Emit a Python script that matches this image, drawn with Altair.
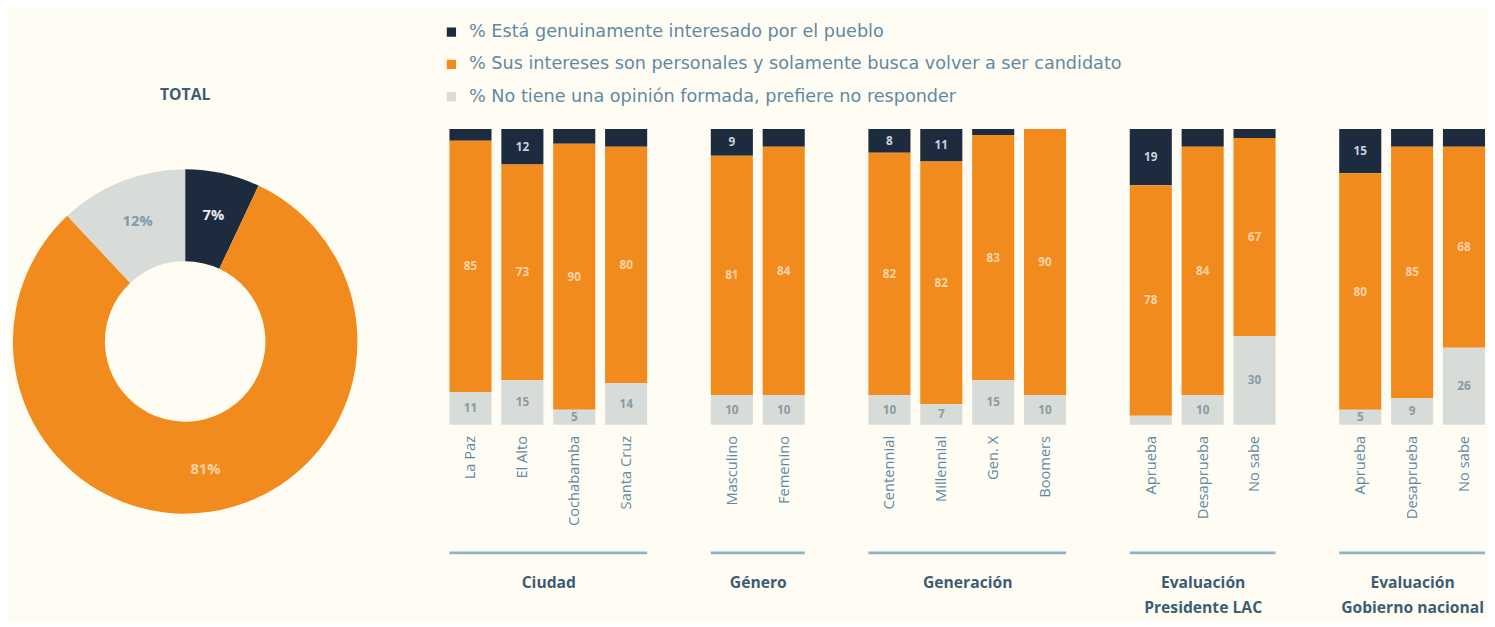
import altair as alt
import pandas as pd

# ---------------- data ----------------
series = [
    "% Está genuinamente interesado por el pueblo",
    "% Sus intereses son personales y solamente busca volver a ser candidato",
    "% No tiene una opinión formada, prefiere no responder",
]
colors = ["#1d2b3e", "#f28b1e", "#d8dcd9"]
label_colors = ["#c9d3dc", "#fcd3a6", "#8a9aa5"]
donut_label_colors = ["#e8eef3", "#fcd3a6", "#7f9aad"]

total = [7, 81, 12]

group_titles = [["Ciudad"], ["Género"], ["Generación"],
                ["Evaluación", "Presidente LAC"], ["Evaluación", "Gobierno nacional"]]
group_cats = [["La Paz", "El Alto", "Cochabamba", "Santa Cruz"],
              ["Masculino", "Femenino"],
              ["Centennial", "Millennial", "Gen. X", "Boomers"],
              ["Aprueba", "Desaprueba", "No sabe"],
              ["Aprueba", "Desaprueba", "No sabe"]]
interesado = [[4, 12, 5, 6], [9, 6], [8, 11, 2, 0], [19, 6, 3], [15, 6, 6]]
personales = [[85, 73, 90, 80], [81, 84], [82, 82, 83, 90], [78, 84, 67], [80, 85, 68]]
no_opina = [[11, 15, 5, 14], [10, 10], [10, 7, 15, 10], [3, 10, 30], [5, 9, 26]]

# ---------------- style ----------------
FONT = "Open Sans"
LEGEND_FONT = "DejaVu Sans"
TEXT_BLUE = "#6189a3"
TITLE_BLUE = "#3c5d74"
LINE_BLUE = "#8db4c6"
BG = "#fffdf3"
STEP = 53
GAP = 10
H = 302

legend = alt.Legend(
    orient="none", legendX=432, legendY=-108, title=None,
    symbolType="square", symbolSize=90, symbolStrokeWidth=0,
    labelFont=LEGEND_FONT, labelFontSize=18, labelColor=TEXT_BLUE,
    labelLimit=1000, labelOffset=9, rowPadding=15,
)
color_enc = alt.Color("serie:N", scale=alt.Scale(domain=series, range=colors), legend=legend)

# ---------------- donut ----------------
donut_df = pd.DataFrame({
    "serie": series,
    "val": total,
    "ord": [0, 1, 2],
    "lbl": [f"{v}%" for v in total],
    "tc": donut_label_colors,
})
dbase = alt.Chart(donut_df).encode(
    theta=alt.Theta("val:Q", stack=True),
    order=alt.Order("ord:Q"),
)
arc = dbase.mark_arc(innerRadius=82, outerRadius=176).encode(color=color_enc)
dtxt = dbase.mark_text(radius=132, font=FONT, fontSize=15, fontWeight="bold").encode(
    text="lbl:N", color=alt.Color("tc:N", scale=None)
)
donut = (arc + dtxt).properties(
    width=338, height=434,
    title=alt.TitleParams("TOTAL", font=FONT, fontSize=16, fontWeight="bold",
                          color=TITLE_BLUE, anchor="middle", offset=27),
)

# ---------------- bar panels ----------------
panels = []
for title, cats, a, b, c in zip(group_titles, group_cats, interesado, personales, no_opina):
    rows = []
    for i, cat in enumerate(cats):
        for s, v in enumerate([a[i], b[i], c[i]]):
            rows.append({"cat": cat, "serie": series[s], "val": v,
                         "so": 2 - s, "s": s, "lc": label_colors[s]})
    df = pd.DataFrame(rows)
    W = len(cats) * STEP - GAP
    xenc = alt.X(
        "cat:N", sort=cats,
        scale=alt.Scale(paddingInner=GAP / STEP, paddingOuter=0),
        axis=alt.Axis(
            title=title, labelAngle=-90, labelFont=FONT, labelFontSize=15,
            labelColor=TEXT_BLUE, labelPadding=11, ticks=False, domain=False,
            labelLimit=200,
            titleFont=FONT, titleFontSize=16, titleFontWeight="bold",
            titleColor=TITLE_BLUE, titleY=153, titleBaseline="top",
            titleLineHeight=26,
        ),
    )
    base = alt.Chart(df).transform_stack(
        stack="val", groupby=["cat"], as_=["y0", "y1"], offset="normalize",
        sort=[alt.SortField("so", order="ascending")],
    ).transform_calculate(mid="(datum.y0 + datum.y1) / 2")
    bars = base.mark_bar().encode(
        x=xenc,
        y=alt.Y("y0:Q", scale=alt.Scale(domain=[0, 1], nice=False), axis=None),
        y2="y1",
        color=color_enc,
    )
    labels = base.transform_filter(
        "(datum.s == 0 && datum.val >= 8) || (datum.s > 0 && datum.val >= 5)"
    ).mark_text(font=FONT, fontSize=12, fontWeight="bold").encode(
        x=alt.X("cat:N", sort=cats),
        y=alt.Y("mid:Q"),
        text="val:Q",
        color=alt.Color("lc:N", scale=None),
    )
    underline = alt.Chart(pd.DataFrame({"k": [0]})).mark_rule(
        color=LINE_BLUE, strokeWidth=3
    ).encode(x=alt.value(0), x2=alt.value(W), y=alt.value(H + 131))
    panels.append((bars + labels + underline).properties(width=W, height=H))

bars_block = alt.hconcat(*panels, spacing=61)

chart = alt.hconcat(donut, bars_block, spacing=92).properties(
    padding={"left": 5, "top": 9, "right": 0, "bottom": 0},
    background=BG,
).configure_view(stroke=None)

chart.save("out.html", embed_options={"renderer": "svg", "actions": False})
